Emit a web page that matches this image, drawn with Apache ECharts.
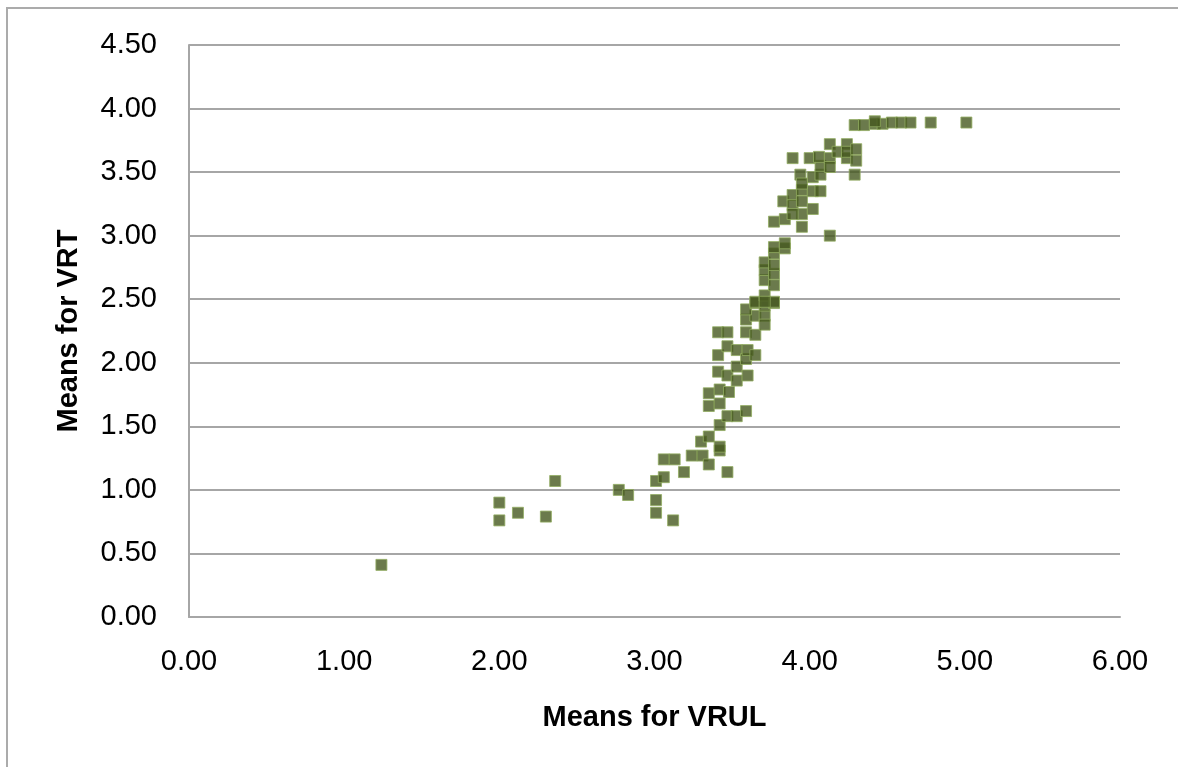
<!DOCTYPE html>
<html>
<head>
<meta charset="utf-8">
<title>Means for VRUL vs VRT</title>
<script src="https://cdn.jsdelivr.net/npm/echarts@6/dist/echarts.min.js"></script>
<style>
  html, body { margin: 0; padding: 0; background: #fff; }
  #viz { width: 1178px; height: 767px; }
</style>
</head>
<body>
<div id="viz"></div>
<script>
// Means, one pair per point
const vrul = [
    1.24, 2.00, 2.00, 2.12, 2.30, 2.36, 2.77, 2.83, 3.01, 3.01,
    3.01, 3.12, 3.06, 3.06, 3.13, 3.19, 3.24, 3.31, 3.35, 3.42,
    3.47, 3.30, 3.35, 3.42, 3.42, 3.47, 3.53, 3.59, 3.35, 3.42,
    3.35, 3.42, 3.48, 3.41, 3.47, 3.53, 3.53, 3.60, 3.41, 3.47,
    3.53, 3.59, 3.60, 3.65, 3.41, 3.47, 3.59, 3.65, 3.59, 3.65,
    3.59, 3.65, 3.71, 3.71, 3.71, 3.77, 3.65, 3.71, 3.77, 3.71,
    3.71, 3.77, 3.77, 3.71, 3.71, 3.77, 3.77, 3.77, 3.84, 3.84,
    4.13, 3.77, 3.84, 3.95, 3.83, 3.89, 3.89, 3.95, 3.95, 4.02,
    3.89, 3.95, 4.02, 4.07, 3.94, 4.02, 4.07, 3.95, 4.07, 3.89,
    4.00, 4.06, 4.13, 4.13, 4.13, 4.18, 4.24, 4.24, 4.24, 4.30,
    4.30, 4.29, 4.29, 4.35, 4.42, 4.47, 4.53, 4.59, 4.65, 4.78,
    5.01, 4.42
];
const vrt = [
    0.41, 0.90, 0.76, 0.82, 0.79, 1.07, 1.00, 0.96, 1.07, 0.92,
    0.82, 0.76, 1.10, 1.24, 1.24, 1.14, 1.27, 1.27, 1.20, 1.31,
    1.14, 1.38, 1.42, 1.34, 1.51, 1.58, 1.58, 1.62, 1.66, 1.68,
    1.76, 1.79, 1.77, 1.93, 1.90, 1.86, 1.97, 1.90, 2.06, 2.13,
    2.10, 2.03, 2.10, 2.06, 2.24, 2.24, 2.24, 2.22, 2.34, 2.37,
    2.42, 2.47, 2.37, 2.30, 2.45, 2.47, 2.48, 2.53, 2.48, 2.65,
    2.73, 2.61, 2.70, 2.79, 2.48, 2.77, 2.86, 2.91, 2.90, 2.94,
    3.00, 3.11, 3.13, 3.07, 3.27, 3.32, 3.24, 3.27, 3.17, 3.21,
    3.17, 3.36, 3.35, 3.35, 3.48, 3.46, 3.48, 3.41, 3.55, 3.61,
    3.61, 3.62, 3.61, 3.54, 3.72, 3.66, 3.72, 3.61, 3.66, 3.68,
    3.59, 3.48, 3.87, 3.87, 3.88, 3.88, 3.89, 3.89, 3.89, 3.89,
    3.89, 3.90
];

const xTicks = { min: 0, max: 6, interval: 1 };
const yTicks = { min: 0, max: 4.5, interval: 0.5 };

const points = vrul.map((v, i) => [v, vrt[i]]);

const font = "'Liberation Sans', Arial, sans-serif";

function createChart() {
    var myChart = echarts.init(document.getElementById('viz'), null, { renderer: 'canvas' });

    var option = {
        backgroundColor: '#ffffff',
        animation: false,
        // outer chart-area frame, runs off the right and bottom edges
        graphic: [{
            type: 'rect',
            shape: { x: 7, y: 8, width: 1250, height: 850 },
            style: { fill: 'none', stroke: '#ababab', lineWidth: 2 },
            silent: true
        }],
        grid: { left: 189, right: 58, top: 45, bottom: 150 },
        xAxis: {
            type: 'value',
            min: xTicks.min,
            max: xTicks.max,
            interval: xTicks.interval,
            name: 'Means for VRUL',
            nameLocation: 'middle',
            nameGap: 86,
            nameTextStyle: { fontFamily: font, fontSize: 29, fontWeight: 'bold', color: '#000' },
            axisLine: { show: true, onZero: false, lineStyle: { color: '#a6a6a6', width: 2 } },
            axisTick: { show: false },
            splitLine: { show: false },
            axisLabel: {
                margin: 30,
                fontFamily: font,
                fontSize: 29,
                color: '#000',
                formatter: v => v.toFixed(2)
            }
        },
        yAxis: {
            type: 'value',
            min: yTicks.min,
            max: yTicks.max,
            interval: yTicks.interval,
            name: 'Means for VRT',
            nameLocation: 'middle',
            nameGap: 106,
            nameTextStyle: { fontFamily: font, fontSize: 29, fontWeight: 'bold', color: '#000' },
            axisLine: { show: true, lineStyle: { color: '#a6a6a6', width: 2 } },
            axisTick: { show: false },
            splitLine: { show: true, lineStyle: { color: '#a6a6a6', width: 2 } },
            axisLabel: {
                margin: 32,
                fontFamily: font,
                fontSize: 29,
                color: '#000',
                formatter: v => v.toFixed(2)
            }
        },
        series: [{
            name: 'VRT',
            type: 'scatter',
            data: points,
            symbol: 'rect',
            symbolSize: 11,
            itemStyle: { color: '#46591f', borderColor: '#92ad62', borderWidth: 1 }
        }]
    };

    myChart.setOption(option);
}

createChart();
</script>
</body>
</html>
